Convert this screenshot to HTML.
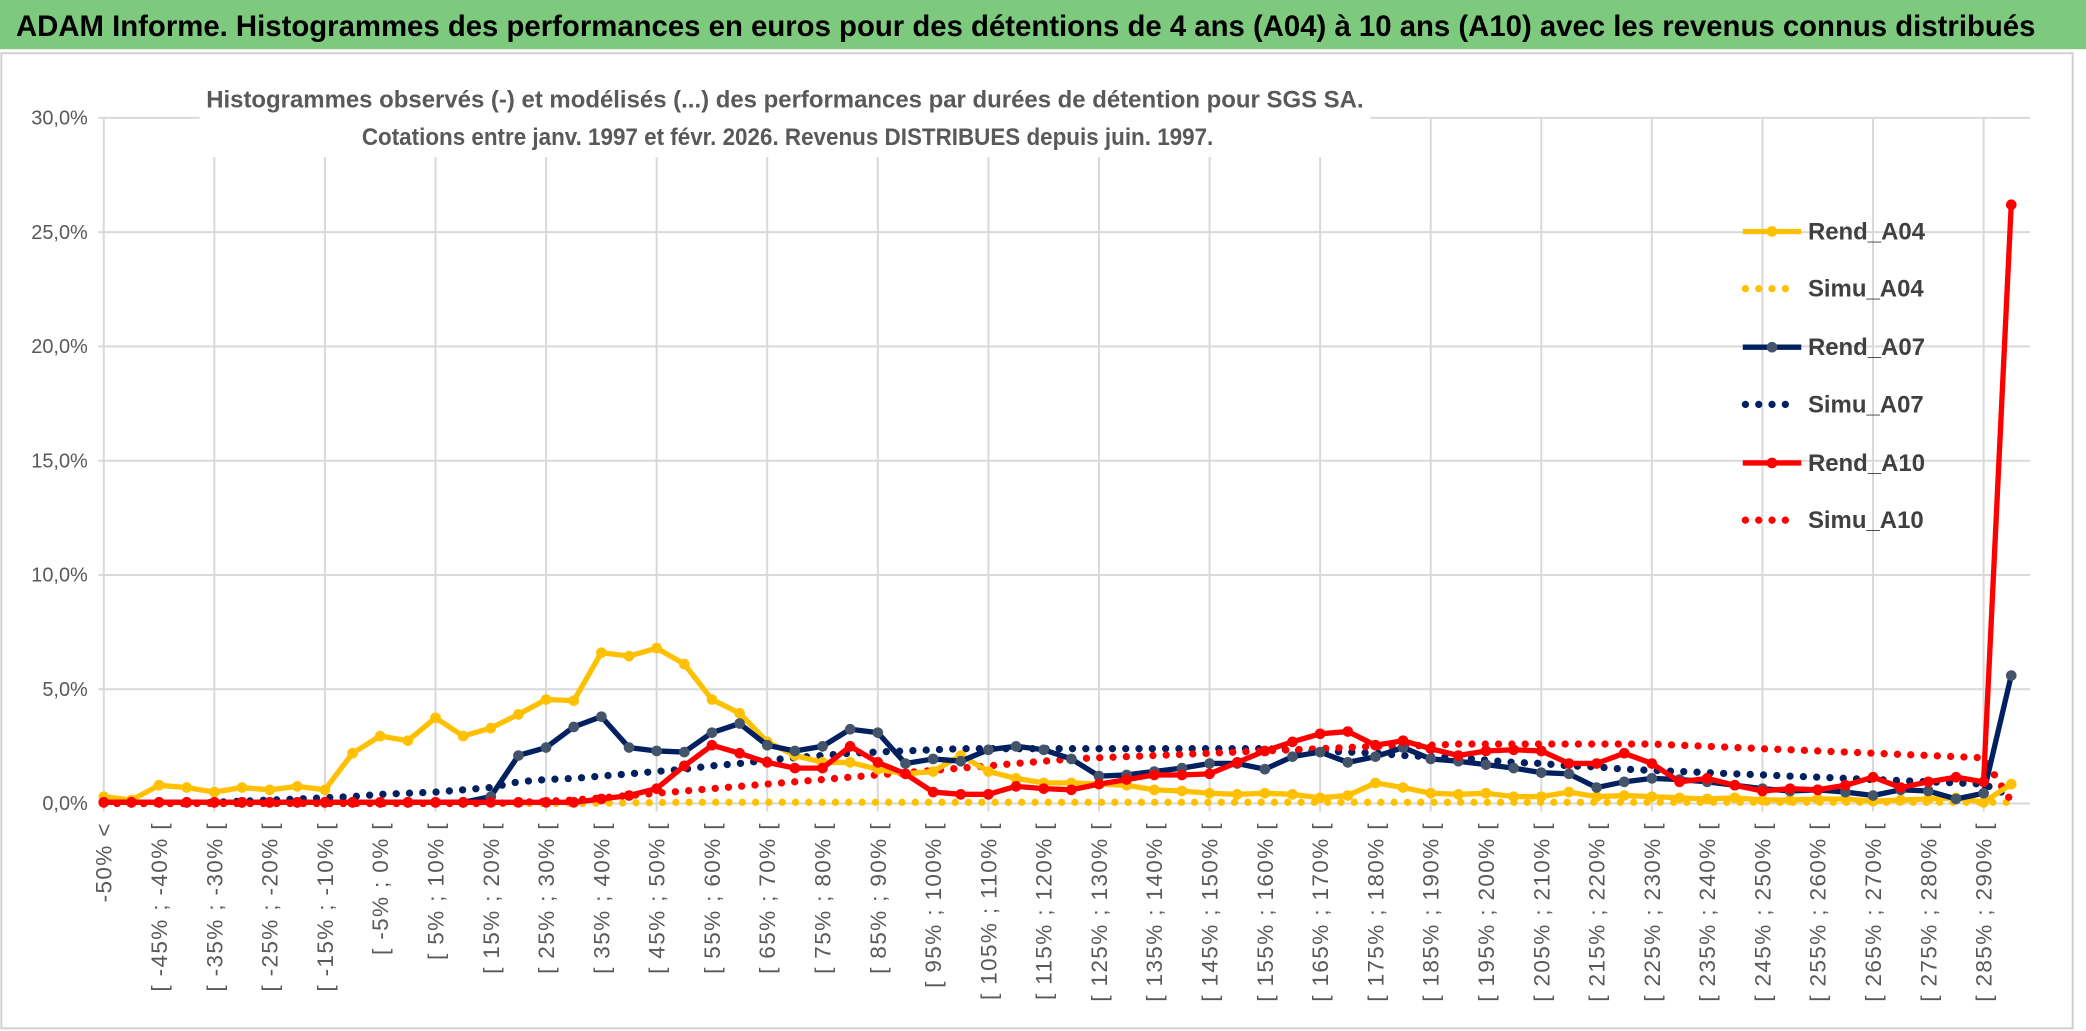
<!DOCTYPE html>
<html><head><meta charset="utf-8"><style>
html,body{margin:0;padding:0;background:#fff;}
svg{display:block;font-family:"Liberation Sans",sans-serif;}
</style></head><body>
<svg id="chart" width="2086" height="1031" viewBox="0 0 1568 775" preserveAspectRatio="none" xmlns="http://www.w3.org/2000/svg">
<rect x="0" y="0" width="1568" height="775" fill="#fff"/>
<rect x="0" y="0" width="1568" height="37" fill="#7dc97d"/>
<text x="12" y="27" font-size="22" font-weight="bold" fill="#000" textLength="1518" lengthAdjust="spacingAndGlyphs">ADAM Informe. Histogrammes des performances en euros pour des détentions de 4 ans (A04) à 10 ans (A10) avec les revenus connus distribués</text>
<rect x="1" y="40" width="1557" height="733" fill="none" stroke="#d0d0d0" stroke-width="1.5"/>
<g id="grid"></g>
<rect x="150" y="58" width="880" height="60" fill="#fff"/>
<text x="590" y="81" text-anchor="middle" font-size="18" font-weight="bold" fill="#595959" textLength="870" lengthAdjust="spacingAndGlyphs">Histogrammes observés (-) et modélisés (...) des performances par durées de détention pour SGS SA.</text>
<text x="592" y="109" text-anchor="middle" font-size="18" font-weight="bold" fill="#595959" textLength="640" lengthAdjust="spacingAndGlyphs">Cotations entre janv. 1997 et févr. 2026. Revenus DISTRIBUES depuis juin. 1997.</text>
<g id="series"></g>
<g id="legend"></g>
</svg>
<script>
const categories = [];
categories.push("-50% <");
for (let k = 1; k < 70; k++) { categories.push("[ " + (-55 + 5 * k) + "% ; " + (-50 + 5 * k) + "% ["); }
const yTicks = [0, 5, 10, 15, 20, 25, 30];
const yTickLabels = ["0,0%", "5,0%", "10,0%", "15,0%", "20,0%", "25,0%", "30,0%"];
const rendA04 = [0.3,0.15,0.8,0.7,0.5,0.7,0.6,0.75,0.6,2.2,2.95,2.75,3.75,2.95,3.3,3.9,4.55,4.5,6.6,6.45,6.8,6.1,4.55,3.95,2.7,2.1,1.8,1.8,1.5,1.3,1.4,2.1,1.4,1.1,0.9,0.9,0.85,0.8,0.6,0.55,0.45,0.4,0.45,0.4,0.25,0.35,0.9,0.7,0.45,0.4,0.45,0.3,0.3,0.5,0.3,0.35,0.3,0.25,0.2,0.25,0.15,0.15,0.2,0.2,0.1,0.15,0.2,0.25,0.05,0.85];
const simuA04 = [0,0,0,0,0,0,0,0,0,0,0,0,0,0,0,0,0,0,0.02,0.03,0.04,0.05,0.05,0.05,0.05,0.05,0.05,0.05,0.05,0.05,0.05,0.05,0.05,0.05,0.05,0.05,0.05,0.05,0.05,0.05,0.05,0.05,0.05,0.05,0.05,0.05,0.05,0.05,0.05,0.05,0.05,0.05,0.05,0.05,0.05,0.05,0.05,0.05,0.05,0.05,0.05,0.05,0.05,0.05,0.05,0.05,0.05,0.05,0.05,0.05];
const rendA07 = [0.05,0.05,0.05,0.05,0.05,0.05,0.05,0.05,0.05,0.05,0.05,0.05,0.05,0.05,0.3,2.1,2.45,3.35,3.8,2.45,2.3,2.25,3.1,3.5,2.55,2.3,2.5,3.25,3.1,1.75,1.95,1.85,2.35,2.5,2.35,1.95,1.2,1.25,1.4,1.55,1.75,1.75,1.5,2.05,2.25,1.8,2.05,2.45,1.95,1.85,1.7,1.55,1.35,1.3,0.7,0.95,1.1,1.05,0.95,0.8,0.65,0.55,0.6,0.5,0.35,0.6,0.55,0.2,0.45,5.6];
const simuA07 = [0,0,0,0,0.05,0.1,0.15,0.2,0.25,0.3,0.4,0.45,0.5,0.6,0.7,0.95,1.05,1.1,1.2,1.3,1.4,1.5,1.65,1.75,1.9,2.0,2.1,2.2,2.25,2.3,2.35,2.4,2.4,2.4,2.4,2.4,2.4,2.4,2.4,2.4,2.4,2.4,2.4,2.35,2.3,2.25,2.2,2.1,2.05,2.0,1.9,1.8,1.75,1.65,1.6,1.5,1.45,1.4,1.35,1.3,1.25,1.2,1.15,1.1,1.05,1.0,0.95,0.9,0.85,0.3];
const rendA10 = [0.05,0.05,0.05,0.05,0.05,0.05,0.05,0.05,0.05,0.05,0.05,0.05,0.05,0.05,0.05,0.05,0.05,0.05,0.2,0.35,0.65,1.65,2.55,2.2,1.8,1.55,1.55,2.5,1.8,1.3,0.5,0.4,0.4,0.75,0.65,0.6,0.85,1.05,1.25,1.25,1.3,1.8,2.3,2.7,3.05,3.15,2.55,2.75,2.4,2.1,2.3,2.35,2.3,1.75,1.75,2.2,1.75,0.95,1.1,0.8,0.55,0.65,0.6,0.8,1.15,0.7,0.95,1.15,0.95,26.2];
const simuA10 = [0,0,0,0,0,0,0,0,0,0,0,0,0,0,0,0.05,0.1,0.15,0.25,0.35,0.45,0.55,0.65,0.75,0.85,0.95,1.05,1.15,1.25,1.35,1.45,1.55,1.65,1.75,1.85,1.95,2.0,2.05,2.1,2.15,2.2,2.25,2.3,2.35,2.4,2.45,2.5,2.5,2.55,2.6,2.6,2.6,2.6,2.6,2.6,2.6,2.6,2.55,2.5,2.45,2.4,2.35,2.3,2.25,2.2,2.15,2.1,2.05,2.0,0.1];

const NS = "http://www.w3.org/2000/svg";
const X0 = 78, XSTEP = 20.78, Y0 = 604, YPER = 17.18;
function xPos(i) { return X0 + i * XSTEP; }
function yPos(v) { return Y0 - v * YPER; }
function mk(tag, attrs, parent) {
  const e = document.createElementNS(NS, tag);
  for (const k in attrs) e.setAttribute(k, attrs[k]);
  parent.appendChild(e);
  return e;
}
const grid = document.getElementById("grid");
yTicks.forEach((t, j) => {
  const l = mk("line", {x1: 74, x2: 1526, y1: yPos(t), y2: yPos(t), stroke: "#d9d9d9", "stroke-width": 1.5}, grid);
  
  
  const tx = mk("text", {x: 66, y: yPos(t) + 5, "text-anchor": "end", "font-size": 15, fill: "#595959"}, grid);
  tx.textContent = yTickLabels[j];
  
  
});
for (let i = 0; i < categories.length; i += 4) {
  const l = mk("line", {x1: xPos(i), x2: xPos(i), y1: yPos(30), y2: Y0 + 6, stroke: "#d9d9d9", "stroke-width": 1.5}, grid);
  
  
}
for (let i = 0; i < categories.length; i += 2) {
  const x = xPos(i) + 6, y = 618;
  const tx = mk("text", {x: x, y: y, "text-anchor": "end", "font-size": 17, fill: "#595959", "letter-spacing": "1", transform: "rotate(-90 " + x + " " + y + ")"}, grid);
  tx.textContent = categories[i];
  
  
}
const series = document.getElementById("series");
function pts(arr) { return arr.map((v, i) => xPos(i).toFixed(1) + "," + yPos(v).toFixed(1)).join(" "); }
function dotted(arr, color, name) {
  const p = mk("polyline", {points: pts(arr), fill: "none", stroke: color, "stroke-width": 5.5, "stroke-linecap": "round", "stroke-dasharray": "0 10"}, series);
  
  
}
function solid(arr, color, mcol, name) {
  const g = mk("g", {}, series);
  
  
  mk("polyline", {points: pts(arr), fill: "none", stroke: color, "stroke-width": 4, "stroke-linejoin": "round"}, g);
  arr.forEach((v, i) => {
    const c = mk("circle", {cx: xPos(i), cy: yPos(v), r: 4, fill: mcol}, g);
    
    
  });
}
dotted(simuA04, "#ffc000", "simu-a04-line");
dotted(simuA07, "#002060", "simu-a07-line");
dotted(simuA10, "#ff0000", "simu-a10-line");
solid(rendA04, "#ffc000", "#ffc000", "rend-a04-line");
solid(rendA07, "#002060", "#44546a", "rend-a07-line");
solid(rendA10, "#ff0000", "#ff0000", "rend-a10-line");

const legend = document.getElementById("legend");
const legItems = [["Rend_A04", "#ffc000", false, "#ffc000"], ["Simu_A04", "#ffc000", true], ["Rend_A07", "#002060", false, "#44546a"], ["Simu_A07", "#002060", true], ["Rend_A10", "#ff0000", false, "#ff0000"], ["Simu_A10", "#ff0000", true]];
const legY = [174, 217, 261, 304, 348, 391];
legItems.forEach((it, j) => {
  const g = mk("g", {}, legend);
  
  
  const y = legY[j];
  if (it[2]) {
    mk("line", {x1: 1312, x2: 1352, y1: y, y2: y, stroke: it[1], "stroke-width": 5.5, "stroke-linecap": "round", "stroke-dasharray": "0 10"}, g);
  } else {
    mk("line", {x1: 1310, x2: 1354, y1: y, y2: y, stroke: it[1], "stroke-width": 4}, g);
    mk("circle", {cx: 1332, cy: y, r: 4, fill: it[3]}, g);
  }
  const t = mk("text", {x: 1359, y: y + 6, "font-size": 18, "font-weight": "bold", fill: "#404040"}, g);
  t.textContent = it[0];
});
</script>
</body></html>
